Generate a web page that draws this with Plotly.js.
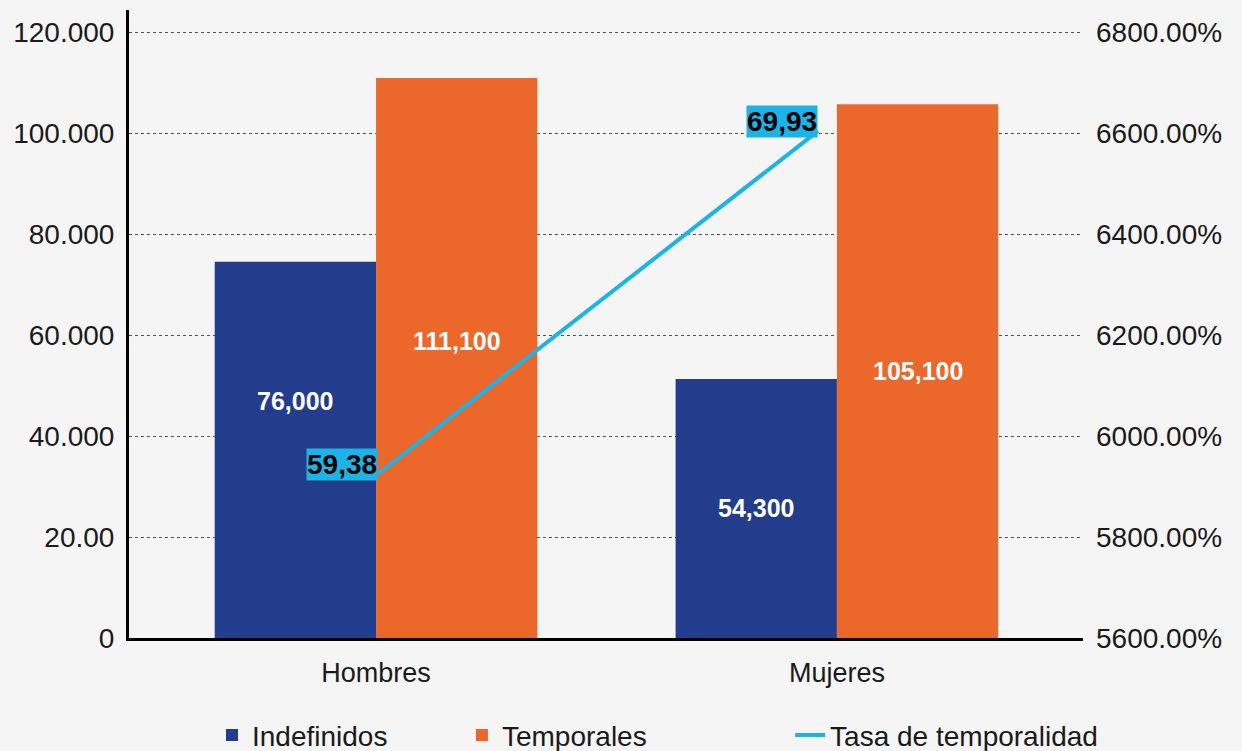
<!DOCTYPE html>
<html>
<head>
<meta charset="utf-8">
<script src="https://cdn.plot.ly/plotly-3.0.1.min.js"></script>
<style>
html,body{margin:0;padding:0;background:#f5f5f5;}
#chart{width:1242px;height:751px;}
</style>
</head>
<body>
<div id="chart"></div>
<script>
// ---- data ----
const categories = ["Hombres", "Mujeres"];
const indefinidos = [74500, 51300];
const temporales = [110900, 105700];
const indefinidosLabels = ["76,000", "54,300"];
const temporalesLabels = ["111,100", "105,100"];
const tasa = [59.38, 69.93];
const tasaLabels = ["59,38", "69,93"];
const leftTickVals = [0, 20000, 40000, 60000, 80000, 100000, 120000];
const leftTickText = ["0", "20.00", "40.000", "60.000", "80.000", "100.000", "120.000"];
const rightTickVals = [5600, 5800, 6000, 6200, 6400, 6600, 6800];
const rightTickText = rightTickVals.map(v => v.toFixed(2) + "%");

// ---- style ----
const BLUE = "#213d8c";
const ORANGE = "#ec672a";
const CYAN = "#1bb4e8";
const FONT = "Liberation Sans, Arial, sans-serif";
const BARGAP = 0.3;
const barW = (1 - BARGAP) / 2;

const traces = [
  {type: "bar", name: "Indefinidos", x: categories, y: indefinidos,
   marker: {color: BLUE}, legend: "legend", hoverinfo: "skip"},
  {type: "bar", name: "Temporales", x: categories, y: temporales,
   marker: {color: ORANGE}, legend: "legend2", hoverinfo: "skip"},
  {type: "scatter", mode: "lines", name: "Tasa de temporalidad", x: categories, y: tasa,
   xaxis: "x2", yaxis: "y3", line: {color: CYAN, width: 4}, legend: "legend3", hoverinfo: "skip"},
  // invisible trace to activate the right axis
  {type: "scatter", mode: "markers", x: categories, y: [5600, 5600], yaxis: "y2",
   marker: {opacity: 0}, showlegend: false, hoverinfo: "skip"}
];

const annotations = [];
const barSets = [[indefinidos, indefinidosLabels, -1, [49, 0]], [temporales, temporalesLabels, 1, [17, 0]]];
barSets.forEach(([vals, labs, side, shifts]) => {
  vals.forEach((v, i) => {
    annotations.push({xref: "x", yref: "y", x: i + side * barW / 2, y: v / 2,
      text: labs[i], showarrow: false, yshift: shifts[i],
      font: {family: FONT, size: 25, color: "#ffffff", weight: "bold"}});
  });
});
tasa.forEach((v, i) => {
  annotations.push({xref: "x2", yref: "y3", x: categories[i], y: v,
    text: "<b>" + tasaLabels[i] + "</b>", showarrow: false, xanchor: "right", yanchor: "middle",
    yshift: 9, bgcolor: CYAN, borderpad: 0,
    font: {family: FONT, size: 28, color: "#000000"}});
});

const legendBase = {orientation: "h", yanchor: "middle", y: -0.155, xanchor: "left",
  bgcolor: "rgba(0,0,0,0)", font: {family: FONT, size: 28, color: "#1a1a1a"}};

const layout = {
  width: 1242, height: 751,
  paper_bgcolor: "#f5f5f5", plot_bgcolor: "#f5f5f5",
  margin: {l: 129, r: 159, t: 10, b: 113, autoexpand: false},
  font: {family: FONT, color: "#1a1a1a"},
  barmode: "group", bargap: BARGAP, bargroupgap: 0,
  xaxis: {type: "category", range: [-0.536, 1.534], showline: true, linecolor: "#000", linewidth: 3,
    showgrid: false, zeroline: false, ticks: "", ticklabelstandoff: 9,
    tickfont: {family: FONT, size: 27, color: "#1a1a1a"}, fixedrange: true},
  xaxis2: {type: "category", overlaying: "x", range: [-0.566, 1.602], visible: false},
  yaxis: {range: [0, 124360], tickvals: leftTickVals, ticktext: leftTickText,
    showline: true, linecolor: "#000", linewidth: 3, showgrid: true, gridcolor: "#555",
    griddash: "dot", gridwidth: 1, zeroline: false, ticks: "", ticklabelstandoff: 6,
    tickfont: {family: FONT, size: 28, color: "#1a1a1a"}},
  yaxis2: {overlaying: "y", side: "right", range: [5600, 6843.6], tickvals: rightTickVals,
    ticktext: rightTickText, showgrid: false, zeroline: false, showline: false,
    ticks: "", ticklabelstandoff: 12, tickfont: {family: FONT, size: 28, color: "#1a1a1a"}},
  yaxis3: {overlaying: "y", range: [54.335, 73.65], visible: false},
  legend: Object.assign({}, legendBase, {x: 0.087}),
  legend2: Object.assign({}, legendBase, {x: 0.349}),
  legend3: Object.assign({}, legendBase, {x: 0.693}),
  annotations: annotations,
  showlegend: true
};

Plotly.newPlot("chart", traces, layout, {displayModeBar: false, staticPlot: true});
</script>
</body>
</html>
